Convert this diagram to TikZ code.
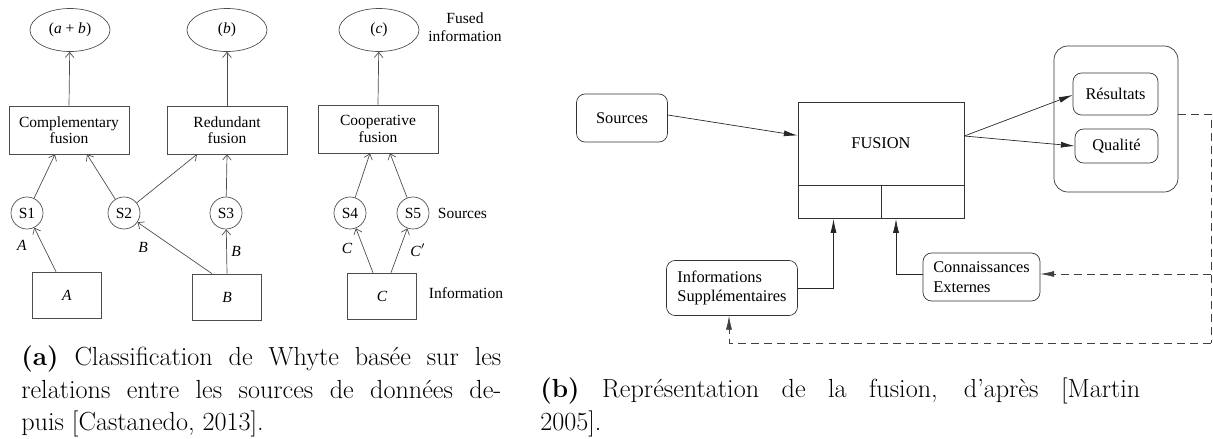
\documentclass[tikz,border=0pt]{standalone}
\usepackage{fontspec}
\newfontfamily\diagfont{Liberation Serif}
\usetikzlibrary{positioning, calc, arrows.meta, shapes.geometric}

\newcommand{\pxu}{0.0204cm}

\begin{document}
\begin{tikzpicture}
    [x=0.0204cm, y=-0.0204cm,
    leftfont/.style={font=\diagfont\fontsize{9}{9.5}\selectfont},
    rightfont/.style={font=\diagfont\fontsize{9.5}{11.5}\selectfont},
    ovalnode/.style={ellipse, draw=black!70, leftfont, inner sep=0pt, minimum width=80*\pxu, minimum height=43*\pxu},
    fusenode/.style={rectangle, draw=black!70, leftfont, align=center, minimum width=120*\pxu, minimum height=48*\pxu},
    sourcenode/.style={circle, draw=black!70, leftfont, inner sep=0pt, minimum size=32*\pxu},
    infonode/.style={rectangle, draw=black!70, leftfont, minimum width=69*\pxu, minimum height=46*\pxu},
    sidelabel/.style={leftfont, align=left},
    leftarrow/.style={draw=black!70, -{Straight Barb[length=3pt, width=5pt]}},
    roundnode/.style={rectangle, rounded corners=5pt, draw=black!80, rightfont},
    squarednode/.style={rectangle, draw=black!80, rightfont},
    rightarrow/.style={draw=black!85, -{Latex[length=8pt, width=3.5pt]}},
    dashline/.style={draw=black!75, dash pattern=on 4.5pt off 3pt},
    captionnode/.style={inner sep=0pt, anchor=north west, align=justify, font=\fontsize{15.2}{18.6}\selectfont}]

    \useasboundingbox (0,0) rectangle (1213,439);

    %Nodes (a)
    \node[ovalnode](E1) at (70,30){(\textit{a} + \textit{b})};
    \node[ovalnode](E2) at (227,30){(\textit{b})};
    \node[ovalnode](E3) at (379,30){(\textit{c})};

    \node[fusenode](F1) at (69,130){Complementary\\fusion};
    \node[fusenode](F2) at (227,130){Redundant\\fusion};
    \node[fusenode](F3) at (378,129){Cooperative\\fusion};

    \node[sourcenode](S1) at (27,213){S1};
    \node[sourcenode](S2) at (124,213){S2};
    \node[sourcenode](S3) at (226,213){S3};
    \node[sourcenode](S4) at (350,213){S4};
    \node[sourcenode](S5) at (413,213){S5};

    \node[infonode](IA) at (67,295){\textit{A}};
    \node[infonode](IB) at (227,297){\textit{B}};
    \node[infonode](IC) at (382,296){\textit{C}};

    %Lines (a)
    \draw[leftarrow](F1.north)--(E1);
    \draw[leftarrow](F2.north)--(E2);
    \draw[leftarrow](F3.north)--(E3);

    \draw[leftarrow](S1)--($(F1.south)+(-14,0)$);
    \draw[leftarrow](S2)--($(F1.south)+(18,0)$);
    \draw[leftarrow](S2)--($(F2.south)+(-30,0)$);
    \draw[leftarrow](S3)--(F2.south);
    \draw[leftarrow](S4)--($(F3.south)+(-8,0)$);
    \draw[leftarrow](S5)--($(F3.south)+(12,0)$);

    \draw[leftarrow]($(IA.north)+(-11,0)$)--(S1);
    \draw[leftarrow]($(IB.north)+(-15,0)$)--(S2);
    \draw[leftarrow](IB.north)--(S3);
    \draw[leftarrow]($(IC.north)+(-9,0)$)--(S4);
    \draw[leftarrow]($(IC.north)+(9,0)$)--(S5);

    %Labels (a)
    \node[sidelabel](Alabel) at (22,245){\textit{A}};
    \node[sidelabel](B2label) at (143,247){\textit{B}};
    \node[sidelabel](B3label) at (236,251){\textit{B}};
    \node[sidelabel](C4label) at (347,248){\textit{C}};
    \node[sidelabel](C5label) at (418,250){\textit{C}$'$};
    \node[sidelabel, align=center, font=\diagfont\fontsize{9}{10.4}\selectfont](Fusedlabel) at (465,27){Fused\\information};
    \node[sidelabel](Srclabel)[right=0.05cm of S5]{Sources};
    \node[sidelabel](Infolabel) at (466,293){Information};

    %Nodes (b)
    \node[roundnode, minimum width=91*\pxu, minimum height=48*\pxu](src) at (622,118){Sources};
    \node[squarednode, minimum width=166*\pxu, minimum height=83*\pxu](fus) at (881,143.5){FUSION};
    \node[squarednode, anchor=north west, minimum width=83*\pxu, minimum height=33*\pxu](fusL) at (fus.south west){};
    \node[squarednode, anchor=north east, minimum width=83*\pxu, minimum height=33*\pxu](fusR) at (fus.south east){};

    \node[roundnode, rounded corners=8pt, minimum width=124*\pxu, minimum height=146*\pxu](res) at (1116,119){};
    \node[roundnode, minimum width=85*\pxu, minimum height=42*\pxu](resu) at (1115.5,94){Résultats};
    \node[roundnode, minimum width=83*\pxu, minimum height=34*\pxu](qual) at (1116.5,146){Qualité};

    \node[roundnode, align=left, minimum width=131*\pxu, minimum height=55*\pxu](info) at (732,288){Informations\\Supplémentaires};
    \node[roundnode, align=left, minimum width=117*\pxu, minimum height=48*\pxu](conn) at (981.5,277){Connaissances\\Externes};

    \coordinate (dNE) at (1211,114);
    \coordinate (dSE) at (1211,343);
    \coordinate (connE) at ($(conn.east)+(0,-3)$);

    %Lines (b)
    \draw[rightarrow]($(src.east)+(0,-3)$)--($(fus.west)+(0,-8)$);
    \draw[rightarrow]($(fus.east)+(0,-7.5)$)--($(resu.west)+(0,1)$);
    \draw[rightarrow]($(fus.east)+(0,-7.5)$)--(qual.west);
    \draw[rightarrow](info.east)-|($(fusL.south)+(-6,0)$);
    \draw[rightarrow]($(conn.west)+(0,-3)$)-|($(fusR.south)+(-26.5,0)$);

    \draw[dashline]($(res.east)+(0,-5)$)--(dNE)--(dSE);
    \draw[dashline, -{Latex[length=8pt, width=3.5pt]}](dSE)-|($(info.south)+(-3,0)$);
    \draw[dashline, -{Latex[length=8pt, width=3.5pt]}](dNE |- connE)--(connE);

    %Captions
    \node[captionnode, text width=480*\pxu](capa) at (21,346){\textbf{(a)} Classification de Whyte basée sur les\linebreak relations entre les sources de données de-\linebreak puis [Castanedo, 2013].};
    \node[captionnode, text width=600*\pxu](capb) at (540,378){\textbf{(b)} Représentation de la fusion, d'après [Martin\linebreak 2005].};

\end{tikzpicture}
\end{document}
